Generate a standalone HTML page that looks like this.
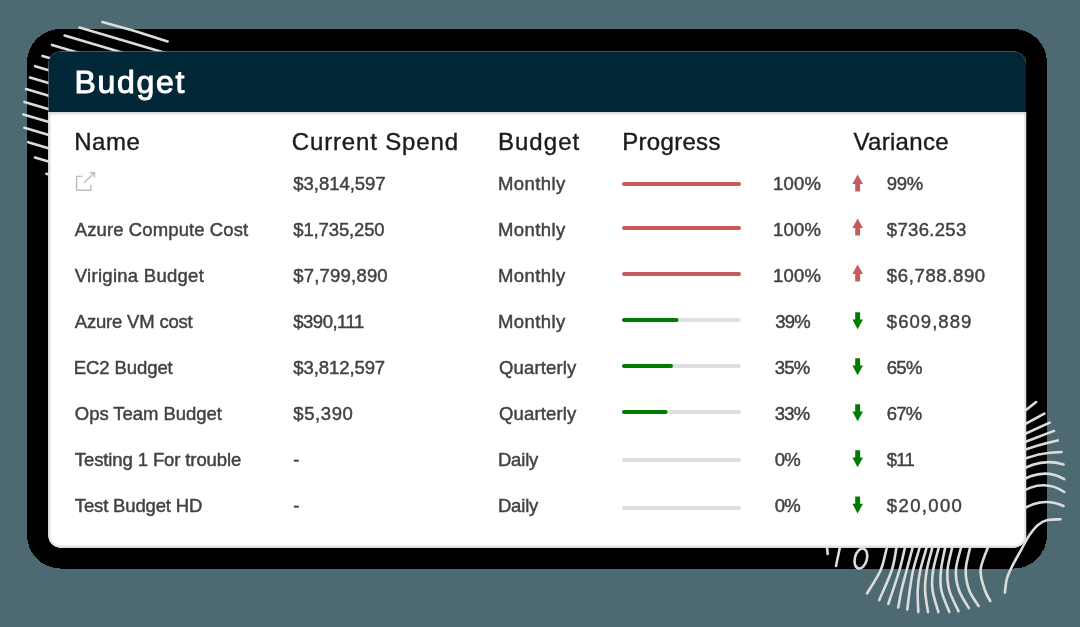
<!DOCTYPE html>
<html><head><meta charset="utf-8"><style>
html,body{margin:0;padding:0;width:1080px;height:627px;overflow:hidden;background:#4d6971;}
svg{display:block;font-family:"Liberation Sans",sans-serif;will-change:transform;}
</style></head><body>
<svg width="1080" height="627" viewBox="0 0 1080 627">
<rect x="27" y="29" width="1020" height="539.5" rx="33.5" fill="#000" shape-rendering="crispEdges"/>
<g fill="none" stroke="#dcdcdc" stroke-width="2.6" stroke-linecap="round"><path d="M102.4,22.1 Q135.0,30.6 167.6,41.4"/><line x1="79.5" y1="27.6" x2="185.0" y2="58.8"/><line x1="64.6" y1="35.5" x2="170.1" y2="66.7"/><line x1="52" y1="44.9" x2="157.5" y2="76.1"/><line x1="42.5" y1="55.9" x2="148.0" y2="87.1"/><line x1="35.1" y1="66.2" x2="140.6" y2="97.4"/><line x1="30" y1="77.6" x2="135.5" y2="108.8"/><line x1="26" y1="89" x2="131.5" y2="120.2"/><line x1="24.4" y1="102" x2="129.9" y2="133.2"/><line x1="23.4" y1="114.4" x2="128.9" y2="145.6"/><line x1="24.4" y1="127.8" x2="129.9" y2="159.0"/><line x1="28.2" y1="142.2" x2="133.7" y2="173.4"/><line x1="34.9" y1="157.5" x2="140.4" y2="188.7"/><line x1="46.4" y1="173.8" x2="151.9" y2="205.0"/><path d="M1016,418 L1036.1,402.1"/><path d="M1016,429 L1044.4,413.6"/><path d="M1016,438 L1049.7,422.6"/><path d="M1016,445.5 L1054,430.9"/><path d="M1016,453 Q1036,445 1057.8,440.4"/><path d="M1016,462.5 Q1038,452 1061.6,452"/><path d="M1016,473 Q1040,457 1063.5,464.5"/><path d="M1016,484 Q1042,466 1064.2,479.2"/><path d="M1016,495.5 Q1042,477 1064.2,492"/><path d="M1016,514 Q1040,495 1063.5,506"/><path d="M1004.9,592.6 C1005.2,590.2 1005.7,582.8 1007.0,578.3 C1008.3,573.8 1010.1,570.4 1012.5,565.6 C1014.9,560.8 1018.5,554.7 1021.3,549.6 C1024.1,544.5 1026.5,539.4 1029.3,535.3 C1032.1,531.2 1035.0,527.4 1038.0,524.9 C1041.0,522.4 1043.8,521.0 1047.6,520.1 C1051.3,519.2 1058.3,519.4 1060.5,519.3"/><path d="M889.5,538.0 C889.1,539.5 888.5,541.7 887.0,547.0 C885.5,552.3 884.0,562.3 880.7,570.0 C877.4,577.7 869.4,589.4 867.1,593.3"/><path d="M898.5,538.0 C898.2,539.5 897.7,541.7 896.6,547.0 C895.5,552.3 894.7,561.1 891.8,570.0 C888.9,578.9 881.3,595.1 879.2,600.1"/><path d="M907.3,538.0 C906.9,539.5 906.4,541.7 905.1,547.0 C903.8,552.3 902.3,560.5 899.5,570.0 C896.7,579.5 890.2,598.3 888.3,604.0"/><path d="M915.2,538.0 C914.8,539.5 914.2,541.7 912.8,547.0 C911.4,552.3 908.6,562.8 906.7,570.0 C904.8,577.2 902.9,583.7 901.5,590.0 C900.1,596.3 898.8,604.7 898.2,607.6"/><path d="M922.4,538.0 C922.0,539.5 921.3,541.7 919.8,547.0 C918.3,552.3 914.9,562.8 913.2,570.0 C911.5,577.2 910.8,583.4 909.8,590.0 C908.8,596.6 907.7,606.2 907.3,609.5"/><path d="M929.3,538.0 C928.9,539.5 928.3,541.7 926.8,547.0 C925.3,552.3 921.8,562.8 920.3,570.0 C918.8,577.2 918.0,583.0 917.7,590.0 C917.4,597.0 918.2,608.4 918.3,612.1"/><path d="M934.7,538.0 C934.4,539.5 933.8,541.7 932.5,547.0 C931.2,552.3 928.0,562.8 926.8,570.0 C925.6,577.2 924.9,583.0 925.1,590.0 C925.3,597.0 927.5,608.4 928.0,612.1"/><path d="M941.1,538.0 C940.8,539.5 940.2,541.7 938.9,547.0 C937.6,552.3 934.3,562.8 933.2,570.0 C932.1,577.2 931.6,583.0 932.5,590.0 C933.4,597.0 937.4,608.4 938.4,612.1"/><path d="M947.0,538.0 C946.7,539.5 946.3,541.7 945.3,547.0 C944.3,552.3 941.7,562.8 941.0,570.0 C940.3,577.2 939.9,583.0 941.3,590.0 C942.7,597.0 948.0,608.4 949.4,612.1"/><path d="M954.2,538.0 C953.9,539.5 953.4,541.7 952.3,547.0 C951.2,552.3 948.0,562.8 947.5,570.0 C947.0,577.2 947.4,583.1 949.2,590.0 C951.0,596.9 957.0,607.7 958.5,611.2"/><path d="M963.3,538.0 C962.9,539.5 962.4,541.7 961.2,547.0 C960.0,552.3 956.3,562.8 955.9,570.0 C955.5,577.2 956.7,583.6 958.9,590.0 C961.1,596.4 967.2,605.2 968.9,608.2"/><path d="M972.0,538.0 C971.7,539.5 971.2,541.7 970.2,547.0 C969.2,552.3 965.9,562.8 965.7,570.0 C965.5,577.2 967.0,584.0 969.1,590.0 C971.2,596.0 977.0,603.3 978.6,606.0"/><path d="M990.9,538.0 C990.4,539.5 989.7,541.7 988.0,547.0 C986.3,552.3 981.1,562.8 980.6,570.0 C980.1,577.2 983.2,584.8 984.8,590.0 C986.4,595.2 989.4,599.2 990.3,601.1"/><path d="M827,547 L827.7,554"/><path d="M840.4,545 L836,566"/><ellipse cx="860.9" cy="558.5" rx="6" ry="10.2" transform="rotate(15 860.9 558.5)"/></g>
<defs><linearGradient id="hs" x1="0" y1="0" x2="0" y2="1"><stop offset="0" stop-color="#000" stop-opacity="0.16"/><stop offset="1" stop-color="#000" stop-opacity="0"/></linearGradient></defs>
<rect x="48.5" y="51.5" width="977.5" height="496" rx="12" fill="#fff"/>
<path d="M49.5,112 V536 A11,11 0 0 0 60.5,546.5 H1014 A11,11 0 0 0 1025,536 V112" fill="none" stroke="#ececec" stroke-width="2.4"/>
<path d="M48.9,112 V536 A11.6,11.6 0 0 0 60.5,547.1 H1014 A11.6,11.6 0 0 0 1025.6,536 V112" fill="none" stroke="#dcdcdc" stroke-width="0.9"/>
<path d="M48.5,112 V63.5 A12,12 0 0 1 60.5,51.5 H1014 A12,12 0 0 1 1026,63.5 V112 Z" fill="#022737"/>
<rect x="49.5" y="112" width="975.5" height="4" fill="url(#hs)"/>
<text x="74.57" y="92.6" font-size="32" fill="#fff" stroke="#fff" stroke-width="0.95" textLength="109.84" lengthAdjust="spacing">Budget</text>
<text x="74.20" y="149.5" font-size="24" fill="#1c1c1c" stroke="#1c1c1c" stroke-width="0.4" textLength="65.65" lengthAdjust="spacing">Name</text>
<text x="291.80" y="149.5" font-size="24" fill="#1c1c1c" stroke="#1c1c1c" stroke-width="0.4" textLength="166.25" lengthAdjust="spacing">Current Spend</text>
<text x="497.90" y="149.5" font-size="24" fill="#1c1c1c" stroke="#1c1c1c" stroke-width="0.4" textLength="81.37" lengthAdjust="spacing">Budget</text>
<text x="622.20" y="149.5" font-size="24" fill="#1c1c1c" stroke="#1c1c1c" stroke-width="0.4" textLength="98.20" lengthAdjust="spacing">Progress</text>
<text x="853.50" y="149.5" font-size="24" fill="#1c1c1c" stroke="#1c1c1c" stroke-width="0.4" textLength="95.05" lengthAdjust="spacing">Variance</text>
<text x="293.23" y="190" font-size="18.5" fill="#424242" stroke="#424242" stroke-width="0.45" textLength="92.44" lengthAdjust="spacing">$3,814,597</text>
<text x="497.93" y="190" font-size="18.5" fill="#424242" stroke="#424242" stroke-width="0.45" textLength="67.40" lengthAdjust="spacing">Monthly</text>
<text x="773.02" y="190" font-size="18.5" fill="#424242" stroke="#424242" stroke-width="0.45" textLength="47.90" lengthAdjust="spacing">100%</text>
<text x="886.83" y="190" font-size="18.5" fill="#424242" stroke="#424242" stroke-width="0.45" textLength="36.30" lengthAdjust="spacing">99%</text>
<text x="74.82" y="236" font-size="18.5" fill="#424242" stroke="#424242" stroke-width="0.45" textLength="173.39" lengthAdjust="spacing">Azure Compute Cost</text>
<text x="293.23" y="236" font-size="18.5" fill="#424242" stroke="#424242" stroke-width="0.45" textLength="91.44" lengthAdjust="spacing">$1,735,250</text>
<text x="497.93" y="236" font-size="18.5" fill="#424242" stroke="#424242" stroke-width="0.45" textLength="67.40" lengthAdjust="spacing">Monthly</text>
<text x="773.02" y="236" font-size="18.5" fill="#424242" stroke="#424242" stroke-width="0.45" textLength="47.90" lengthAdjust="spacing">100%</text>
<text x="886.83" y="236" font-size="18.5" fill="#424242" stroke="#424242" stroke-width="0.45" textLength="79.44" lengthAdjust="spacing">$736.253</text>
<text x="74.82" y="282" font-size="18.5" fill="#424242" stroke="#424242" stroke-width="0.45" textLength="128.99" lengthAdjust="spacing">Virigina Budget</text>
<text x="293.23" y="282" font-size="18.5" fill="#424242" stroke="#424242" stroke-width="0.45" textLength="94.44" lengthAdjust="spacing">$7,799,890</text>
<text x="497.93" y="282" font-size="18.5" fill="#424242" stroke="#424242" stroke-width="0.45" textLength="67.40" lengthAdjust="spacing">Monthly</text>
<text x="773.02" y="282" font-size="18.5" fill="#424242" stroke="#424242" stroke-width="0.45" textLength="47.90" lengthAdjust="spacing">100%</text>
<text x="886.83" y="282" font-size="18.5" fill="#424242" stroke="#424242" stroke-width="0.45" textLength="98.34" lengthAdjust="spacing">$6,788.890</text>
<text x="74.82" y="328" font-size="18.5" fill="#424242" stroke="#424242" stroke-width="0.45" textLength="117.89" lengthAdjust="spacing">Azure VM cost</text>
<text x="293.23" y="328" font-size="18.5" fill="#424242" stroke="#424242" stroke-width="0.45" textLength="71.04" lengthAdjust="spacing">$390,111</text>
<text x="497.93" y="328" font-size="18.5" fill="#424242" stroke="#424242" stroke-width="0.45" textLength="67.40" lengthAdjust="spacing">Monthly</text>
<text x="775.23" y="328" font-size="18.5" fill="#424242" stroke="#424242" stroke-width="0.45" textLength="35.43" lengthAdjust="spacing">39%</text>
<text x="886.83" y="328" font-size="18.5" fill="#424242" stroke="#424242" stroke-width="0.45" textLength="84.44" lengthAdjust="spacing">$609,889</text>
<text x="73.82" y="374" font-size="18.5" fill="#424242" stroke="#424242" stroke-width="0.45" textLength="98.89" lengthAdjust="spacing">EC2 Budget</text>
<text x="293.23" y="374" font-size="18.5" fill="#424242" stroke="#424242" stroke-width="0.45" textLength="91.94" lengthAdjust="spacing">$3,812,597</text>
<text x="498.93" y="374" font-size="18.5" fill="#424242" stroke="#424242" stroke-width="0.45" textLength="77.40" lengthAdjust="spacing">Quarterly</text>
<text x="774.73" y="374" font-size="18.5" fill="#424242" stroke="#424242" stroke-width="0.45" textLength="35.43" lengthAdjust="spacing">35%</text>
<text x="886.83" y="374" font-size="18.5" fill="#424242" stroke="#424242" stroke-width="0.45" textLength="35.50" lengthAdjust="spacing">65%</text>
<text x="74.82" y="420" font-size="18.5" fill="#424242" stroke="#424242" stroke-width="0.45" textLength="147.09" lengthAdjust="spacing">Ops Team Budget</text>
<text x="293.23" y="420" font-size="18.5" fill="#424242" stroke="#424242" stroke-width="0.45" textLength="59.64" lengthAdjust="spacing">$5,390</text>
<text x="498.93" y="420" font-size="18.5" fill="#424242" stroke="#424242" stroke-width="0.45" textLength="77.40" lengthAdjust="spacing">Quarterly</text>
<text x="774.73" y="420" font-size="18.5" fill="#424242" stroke="#424242" stroke-width="0.45" textLength="35.43" lengthAdjust="spacing">33%</text>
<text x="886.83" y="420" font-size="18.5" fill="#424242" stroke="#424242" stroke-width="0.45" textLength="35.43" lengthAdjust="spacing">67%</text>
<text x="74.82" y="466" font-size="18.5" fill="#424242" stroke="#424242" stroke-width="0.45" textLength="166.44" lengthAdjust="spacing">Testing 1 For trouble</text>
<text x="293.33" y="466" font-size="18.5" fill="#424242" stroke="#424242" stroke-width="0.45">-</text>
<text x="497.93" y="466" font-size="18.5" fill="#424242" stroke="#424242" stroke-width="0.45" textLength="40.40" lengthAdjust="spacing">Daily</text>
<text x="774.73" y="466" font-size="18.5" fill="#424242" stroke="#424242" stroke-width="0.45" textLength="25.94" lengthAdjust="spacing">0%</text>
<text x="886.83" y="466" font-size="18.5" fill="#424242" stroke="#424242" stroke-width="0.45" textLength="27.89" lengthAdjust="spacing">$11</text>
<text x="74.82" y="512" font-size="18.5" fill="#424242" stroke="#424242" stroke-width="0.45" textLength="127.51" lengthAdjust="spacing">Test Budget HD</text>
<text x="293.33" y="512" font-size="18.5" fill="#424242" stroke="#424242" stroke-width="0.45">-</text>
<text x="497.93" y="512" font-size="18.5" fill="#424242" stroke="#424242" stroke-width="0.45" textLength="40.40" lengthAdjust="spacing">Daily</text>
<text x="774.73" y="512" font-size="18.5" fill="#424242" stroke="#424242" stroke-width="0.45" textLength="25.94" lengthAdjust="spacing">0%</text>
<text x="886.83" y="512" font-size="18.5" fill="#424242" stroke="#424242" stroke-width="0.45" textLength="75.04" lengthAdjust="spacing">$20,000</text>
<line x1="624" y1="184" x2="739" y2="184" stroke="#c95a5b" stroke-width="4" stroke-linecap="round"/>
<path d="M857.6,174.6 L863,184.0 H860.1 V191.6 H855.2 V184.0 H852.4 Z" fill="#c95a5b"/>
<line x1="624" y1="228" x2="739" y2="228" stroke="#c95a5b" stroke-width="4" stroke-linecap="round"/>
<path d="M857.6,218.6 L863,228.0 H860.1 V235.6 H855.2 V228.0 H852.4 Z" fill="#c95a5b"/>
<line x1="624" y1="274" x2="739" y2="274" stroke="#c95a5b" stroke-width="4" stroke-linecap="round"/>
<path d="M857.6,264.6 L863,274.0 H860.1 V281.6 H855.2 V274.0 H852.4 Z" fill="#c95a5b"/>
<line x1="624" y1="320" x2="739" y2="320" stroke="#dfdfdf" stroke-width="4" stroke-linecap="round"/>
<line x1="624" y1="320" x2="676.5" y2="320" stroke="#007c00" stroke-width="4" stroke-linecap="round"/>
<path d="M855.2,312.2 H860.1 V319.6 H863 L857.6,329.2 L852.4,319.6 H855.2 Z" fill="#007c00"/>
<line x1="624" y1="366" x2="739" y2="366" stroke="#dfdfdf" stroke-width="4" stroke-linecap="round"/>
<line x1="624" y1="366" x2="671" y2="366" stroke="#007c00" stroke-width="4" stroke-linecap="round"/>
<path d="M855.2,358.2 H860.1 V365.6 H863 L857.6,375.2 L852.4,365.6 H855.2 Z" fill="#007c00"/>
<line x1="624" y1="412" x2="739" y2="412" stroke="#dfdfdf" stroke-width="4" stroke-linecap="round"/>
<line x1="624" y1="412" x2="665.5" y2="412" stroke="#007c00" stroke-width="4" stroke-linecap="round"/>
<path d="M855.2,404.2 H860.1 V411.6 H863 L857.6,421.2 L852.4,411.6 H855.2 Z" fill="#007c00"/>
<line x1="624" y1="460" x2="739" y2="460" stroke="#dfdfdf" stroke-width="4" stroke-linecap="round"/>
<path d="M855.2,450.2 H860.1 V457.6 H863 L857.6,467.2 L852.4,457.6 H855.2 Z" fill="#007c00"/>
<line x1="624" y1="508" x2="739" y2="508" stroke="#dfdfdf" stroke-width="4" stroke-linecap="round"/>
<path d="M855.2,496.4 H860.1 V503.8 H863 L857.6,513.4 L852.4,503.8 H855.2 Z" fill="#007c00"/>
<g fill="none" stroke="#bdbdbd" stroke-width="1.4"><path d="M82.6,176.4 H76.6 V190.2 H90.9 V184.8"/><path d="M83.8,183 L94.5,172.8 M89.7,172.8 H94.5 V177.6"/></g>
</svg>
</body></html>
